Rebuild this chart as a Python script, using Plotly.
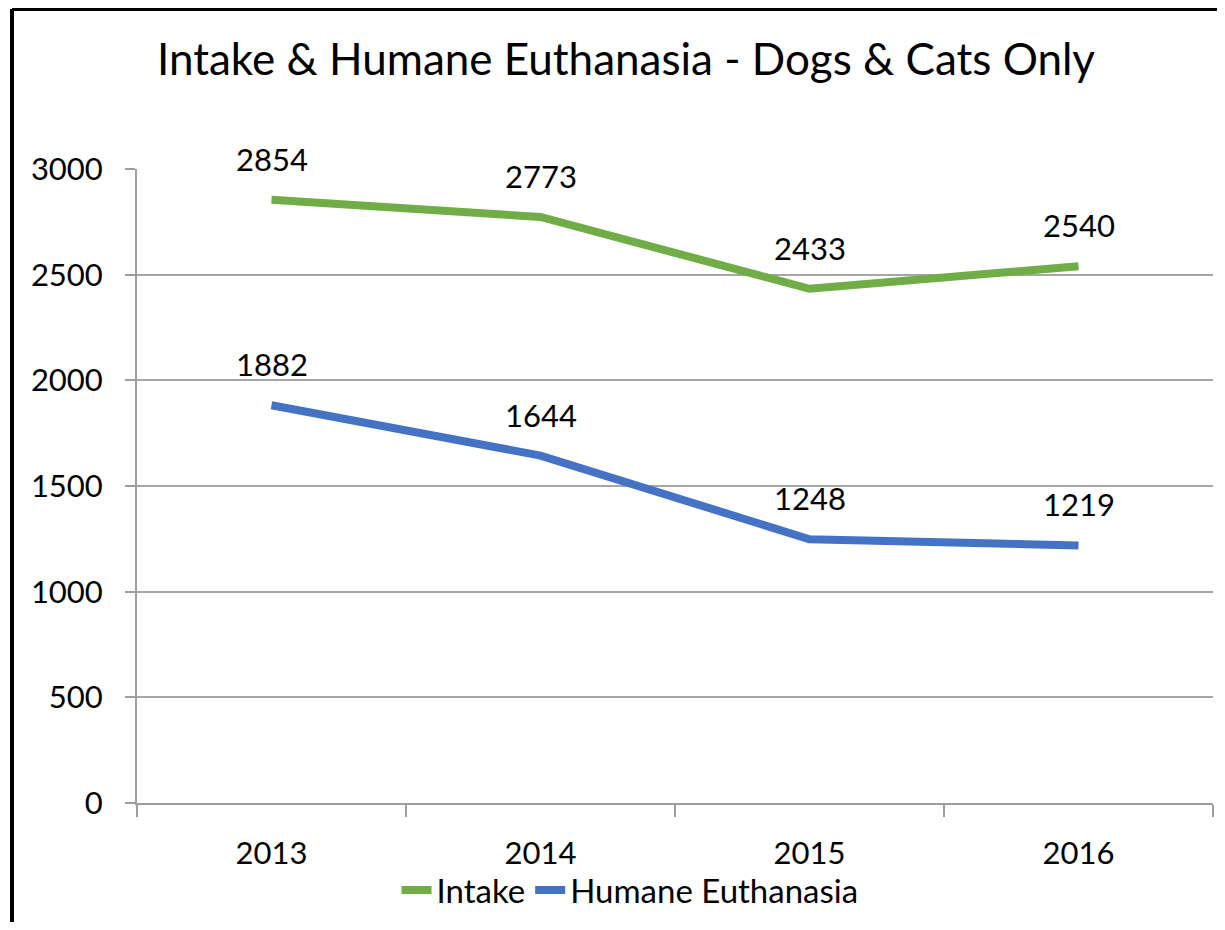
import plotly.graph_objects as go

years = ["2013", "2014", "2015", "2016"]
intake = [2854, 2773, 2433, 2540]
euthanasia = [1882, 1644, 1248, 1219]
y_ticks = [0, 500, 1000, 1500, 2000, 2500, 3000]

FONT = "Lato"
OFF = 8  # page body margin
W, H = 1225 - 2 * OFF, 930 - 2 * OFF
ML, MT = 137 - OFF, 169 - OFF
PW = 1213 - 137
PH = 803 - 169
MR = W - ML - PW
MB = H - MT - PH

fig = go.Figure()
fig.add_trace(go.Scatter(x=years, y=intake, mode="lines", name="Intake",
                         line=dict(color="#70AD47", width=8), cliponaxis=False))
fig.add_trace(go.Scatter(x=years, y=euthanasia, mode="lines", name="Humane Euthanasia",
                         line=dict(color="#4472C4", width=8), cliponaxis=False))

for series in (intake, euthanasia):
    for i, yv in enumerate(series):
        fig.add_annotation(x=i, y=yv, xref="x", yref="y", text=str(yv), showarrow=False,
                           yshift=41, font=dict(family=FONT, size=31, color="#000000"))

# outer border: only left and top edges are visible in the cropped picture
bx0 = (4 - ML) / PW
by1 = (MT + PH - 1) / PH
fig.add_shape(type="line", xref="paper", yref="paper", x0=bx0, x1=bx0, y0=-0.5, y1=by1,
              line=dict(color="#000000", width=4), layer="above")
fig.add_shape(type="line", xref="paper", yref="paper", x0=bx0, x1=1.5, y0=by1, y1=by1,
              line=dict(color="#000000", width=4), layer="above")

fig.update_layout(
    width=W, height=H,
    margin=dict(l=ML, r=MR, t=MT, b=MB, pad=0),
    paper_bgcolor="white", plot_bgcolor="white",
    title=dict(text="Intake & Humane Euthanasia - Dogs & Cats Only",
               x=(626 - OFF) / W, xanchor="center", xref="container",
               y=1 - (60 - OFF) / H, yanchor="middle", yref="container",
               font=dict(family=FONT, size=44, color="#000000")),
    showlegend=True,
    legend=dict(orientation="h", x=(630 - OFF - ML) / PW, xanchor="center",
                y=-(890 - OFF - MT - PH) / PH, yanchor="middle",
                font=dict(family=FONT, size=33, color="#000000"),
                bgcolor="rgba(0,0,0,0)", itemwidth=30),
    xaxis=dict(type="category", range=[-0.5, 3.5], tickson="boundaries",
               showline=True, linecolor="#9E9E9E", linewidth=2,
               ticks="outside", ticklen=12, tickcolor="#9E9E9E", tickwidth=2,
               showgrid=False, zeroline=False, ticklabelstandoff=22,
               tickfont=dict(family=FONT, size=31, color="#000000")),
    yaxis=dict(range=[0, 3000], tickvals=y_ticks,
               showline=True, linecolor="#9E9E9E", linewidth=2,
               ticks="outside", ticklen=10, tickcolor="#9E9E9E", tickwidth=2,
               showgrid=True, gridcolor="#A6A6A6", gridwidth=1.5,
               zeroline=False, ticklabelstandoff=16,
               tickfont=dict(family=FONT, size=31, color="#000000")),
)

fig.write_html("out.html")
